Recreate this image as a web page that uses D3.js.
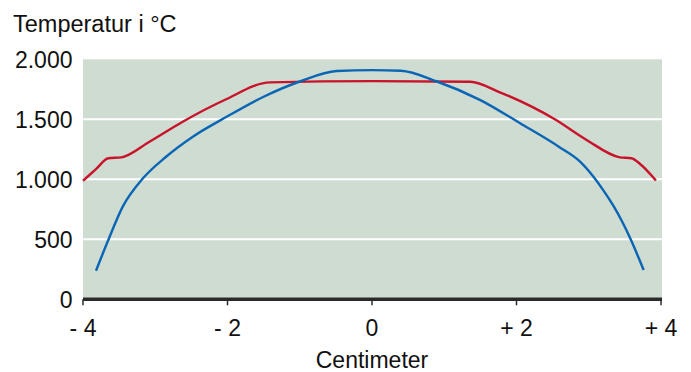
<!DOCTYPE html>
<html>
<head>
<meta charset="utf-8">
<script src="https://cdn.jsdelivr.net/npm/d3@7"></script>
<style>
  body { margin: 0; background: #fff; }
  text { font-family: "Liberation Sans", Arial, sans-serif; fill: #111; }
</style>
</head>
<body>
<div id="chart"></div>
<script>
// values (cm, °C)
var blueX = [-3.82, -3.65, -3.45, -3.17, -2.85, -2.48, -2.0, -1.5, -1.0, -0.49, 0, 0.4, 0.9, 1.5, 2.05, 2.6, 2.88, 3.06, 3.2, 3.34, 3.46, 3.58, 3.76];
var blueY = [238, 494, 772, 1008, 1188, 1355, 1525, 1688, 1815, 1903, 1910, 1905, 1815, 1660, 1467, 1266, 1147, 1025, 910, 780, 650, 500, 244];
var redX = [-4, -3.82, -3.65, -3.47, -3.08, -2.62, -2.04, -1.41, 0, 1.36, 1.77, 2.53, 2.97, 3.43, 3.59, 3.71, 3.93];
var redY = [988, 1085, 1175, 1183, 1313, 1480, 1661, 1808, 1818, 1813, 1725, 1500, 1328, 1183, 1175, 1128, 990];
var yTicks = [0, 500, 1000, 1500, 2000];
var yLabels = ['0', '500', '1.000', '1.500', '2.000'];
var xTicks = [-4, -2, 0, 2, 4];
var xLabels = ['- 4', '- 2', '0', '+ 2', '+ 4'];

var width = 691, height = 372;
var svg = d3.select('#chart').append('svg')
  .attr('width', width)
  .attr('height', height);

var x = d3.scaleLinear().domain([-4, 4]).range([83, 661]);
var y = d3.scaleLinear().domain([0, 2000]).range([299.3, 59.3]);

// plot background
svg.append('rect')
  .attr('x', x(-4)).attr('y', y(2000))
  .attr('width', x(4) - x(-4) + 1)
  .attr('height', y(0) - y(2000) - 1.5)
  .attr('fill', '#cfdcd2');

// gridlines
svg.selectAll('line.grid')
  .data(yTicks.filter(d => d > 0 && d < 2000))
  .enter().append('line')
  .attr('class', 'grid')
  .attr('x1', x(-4)).attr('x2', x(4) + 1)
  .attr('y1', d => y(d)).attr('y2', d => y(d))
  .attr('stroke', '#fff')
  .attr('stroke-width', 2);

// y labels
svg.selectAll('text.ylab')
  .data(yTicks)
  .enter().append('text')
  .attr('class', 'ylab')
  .attr('x', 72.5)
  .attr('y', d => y(d))
  .attr('dy', '0.36em')
  .attr('text-anchor', 'end')
  .style('font-size', '23px')
  .text((d, i) => yLabels[i]);

// lines
var line = d3.line().curve(d3.curveMonotoneX);
svg.append('path')
  .attr('d', line(redX.map((d, i) => [x(d), y(redY[i])])))
  .attr('fill', 'none')
  .attr('stroke', '#c8132b')
  .attr('stroke-width', 2.4);
svg.append('path')
  .attr('d', line(blueX.map((d, i) => [x(d), y(blueY[i])])))
  .attr('fill', 'none')
  .attr('stroke', '#0a66b4')
  .attr('stroke-width', 2.4);

// x axis
svg.append('line')
  .attr('x1', x(-4)).attr('x2', x(4) + 1)
  .attr('y1', y(0)).attr('y2', y(0))
  .attr('stroke', '#2a2a2a')
  .attr('stroke-width', 3.5);
svg.selectAll('line.tick')
  .data(xTicks)
  .enter().append('line')
  .attr('class', 'tick')
  .attr('x1', d => x(d)).attr('x2', d => x(d))
  .attr('y1', y(0)).attr('y2', y(0) + 6)
  .attr('stroke', '#2a2a2a')
  .attr('stroke-width', 1.5);
svg.selectAll('text.xlab')
  .data(xTicks)
  .enter().append('text')
  .attr('class', 'xlab')
  .attr('x', d => x(d))
  .attr('y', 336)
  .attr('text-anchor', 'middle')
  .style('font-size', '23px')
  .text((d, i) => xLabels[i]);

// titles
svg.append('text')
  .attr('x', 372)
  .attr('y', 368)
  .attr('text-anchor', 'middle')
  .style('font-size', '23px')
  .text('Centimeter');
svg.append('text')
  .attr('x', 13)
  .attr('y', 31.5)
  .style('font-size', '23.5px')
  .text('Temperatur i °C');
</script>
</body>
</html>
